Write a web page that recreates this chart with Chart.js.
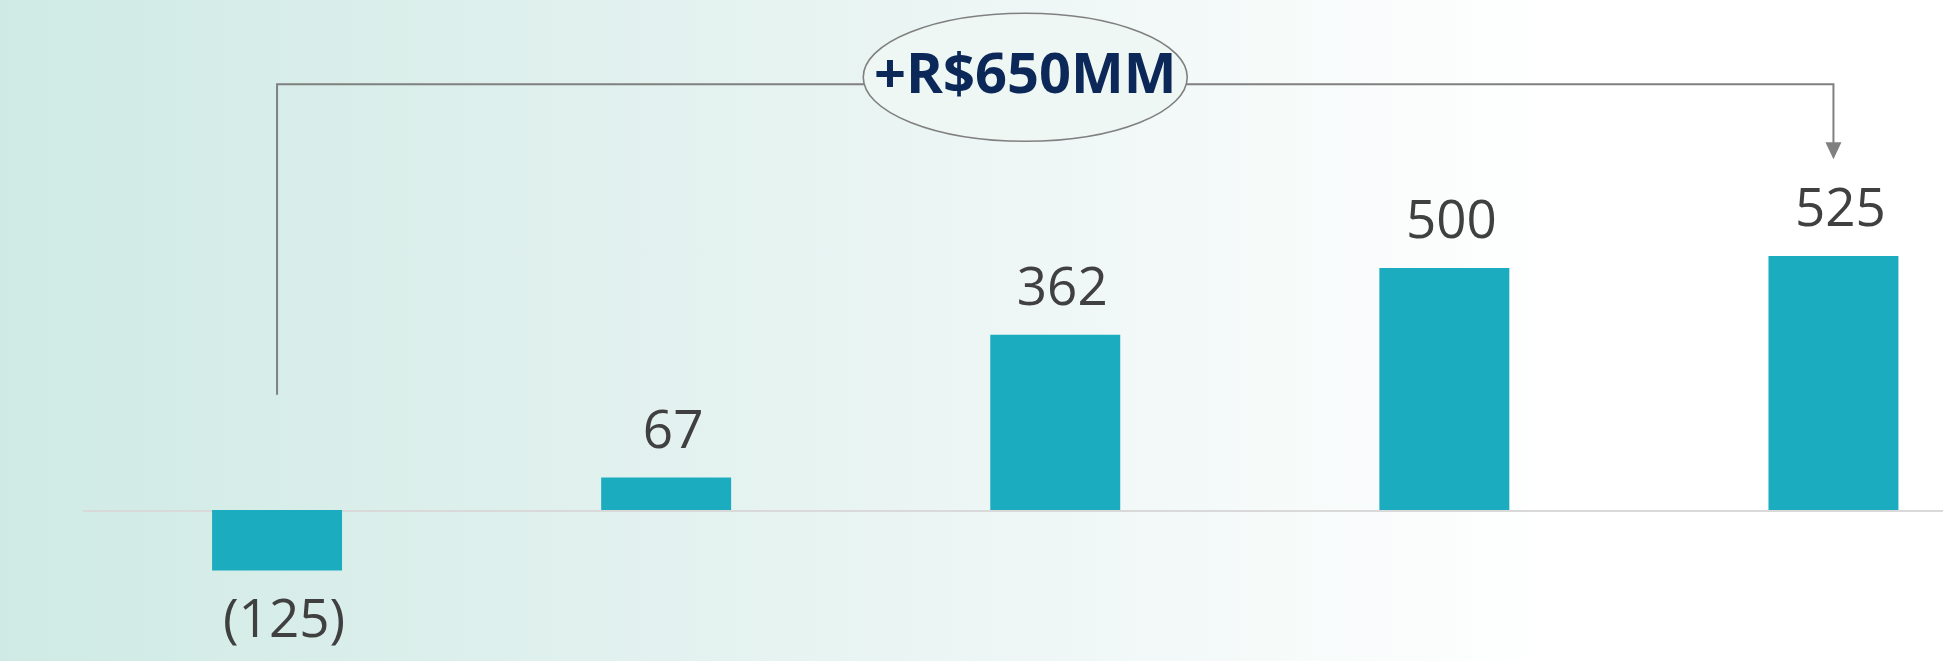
<!DOCTYPE html>
<html>
<head>
<meta charset="utf-8">
<script src="https://cdn.jsdelivr.net/npm/chart.js@4/dist/chart.umd.min.js"></script>
<style>
    html, body {
        margin: 0;
        padding: 0;
        width: 1943px;
        height: 661px;
        overflow: hidden;
    }
    body {
        background: linear-gradient(to right, #cfeae4 0%, #e6f3f1 40%, #ffffff 80%);
    }
    #wrap {
        position: relative;
        width: 2028px;
        height: 661px;
    }
</style>
</head>
<body>
<div id="wrap"><canvas id="resultChart"></canvas></div>
<script>
// Valores (R$ MM)
const categories = ['A', 'B', 'C', 'D', 'E'];
const values = [-125, 67, 362, 500, 525];
const highlightText = '+R$650MM';

const barColor = '#1badbf';
const labelColor = '#404040';
const lineColor = '#808080';

// ligne du zéro
const zeroLinePlugin = {
    id: 'zeroLine',
    beforeDatasetsDraw(chart) {
        const { ctx, chartArea, scales } = chart;
        const y0 = scales.y.getPixelForValue(0);
        ctx.save();
        ctx.strokeStyle = '#d9d9d9';
        ctx.lineWidth = 2;
        ctx.beginPath();
        ctx.moveTo(chartArea.left, y0 + 1);
        ctx.lineTo(chartArea.right, y0 + 1);
        ctx.stroke();
        ctx.restore();
    }
};

// Étiquettes de valeur
const valueLabelPlugin = {
    id: 'valueLabels',
    afterDatasetsDraw(chart) {
        const { ctx } = chart;
        const meta = chart.getDatasetMeta(0);
        ctx.save();
        ctx.font = '53px "Open Sans"';
        ctx.fillStyle = labelColor;
        ctx.textAlign = 'center';
        ctx.textBaseline = 'alphabetic';
        meta.data.forEach((bar, i) => {
            const v = values[i];
            const txt = v < 0 ? '(' + Math.abs(v) + ')' : String(v);
            const y = v < 0 ? bar.y + 66 : bar.y - 30;
            ctx.fillText(txt, bar.x + 7, y);
        });
        ctx.restore();
    }
};

// Accolade + ellipse
const bracketPlugin = {
    id: 'bracket',
    afterDraw(chart) {
        const { ctx, scales } = chart;
        const x0 = scales.x.getPixelForValue(0);
        const x4 = scales.x.getPixelForValue(4);
        const yTop = scales.y.getPixelForValue(880);
        const yLeftEnd = scales.y.getPixelForValue(238);
        const yArrow = scales.y.getPixelForValue(725);

        ctx.save();
        ctx.strokeStyle = lineColor;
        ctx.lineWidth = 2;
        ctx.beginPath();
        ctx.moveTo(x0, yLeftEnd);
        ctx.lineTo(x0, yTop);
        ctx.lineTo(x4, yTop);
        ctx.lineTo(x4, yArrow - 15);
        ctx.stroke();

        // flèche
        ctx.fillStyle = lineColor;
        ctx.beginPath();
        ctx.moveTo(x4 - 8, yArrow - 17);
        ctx.lineTo(x4 + 8, yArrow - 17);
        ctx.lineTo(x4, yArrow);
        ctx.closePath();
        ctx.fill();

        // ellipse
        const cx = (x0 + x4) / 2 - 30;
        const cy = yTop - 7;
        ctx.beginPath();
        ctx.ellipse(cx, cy, 162, 64, 0, 0, Math.PI * 2);
        ctx.fillStyle = '#eff7f5';
        ctx.fill();
        ctx.lineWidth = 1.6;
        ctx.stroke();

        ctx.font = 'bold 56px "Open Sans"';
        ctx.fillStyle = '#0b2858';
        ctx.textAlign = 'center';
        ctx.textBaseline = 'alphabetic';
        ctx.fillText(highlightText, cx, cy + 16);
        ctx.restore();
    }
};

const ctx = document.getElementById('resultChart').getContext('2d');
new Chart(ctx, {
    type: 'bar',
    data: {
        labels: categories,
        datasets: [{
            data: values,
            backgroundColor: barColor,
            borderWidth: 0,
            categoryPercentage: 1,
            barPercentage: 0.334
        }]
    },
    options: {
        responsive: true,
        maintainAspectRatio: false,
        animation: false,
        layout: { padding: { left: 82.5, right: 0, top: 0, bottom: 0 } },
        plugins: {
            legend: { display: false },
            tooltip: { enabled: false }
        },
        scales: {
            x: {
                display: false,
                grid: { display: false }
            },
            y: {
                display: false,
                min: -312,
                max: 1054,
                grid: { display: false }
            }
        }
    },
    plugins: [zeroLinePlugin, valueLabelPlugin, bracketPlugin]
});
</script>
</body>
</html>
